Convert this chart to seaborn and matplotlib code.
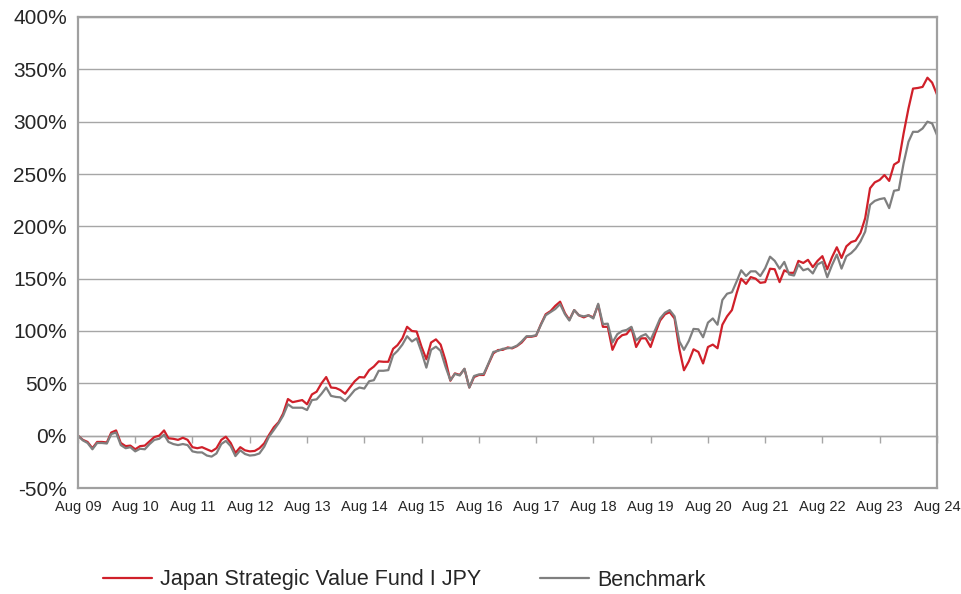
import numpy as np
import pandas as pd
import matplotlib
matplotlib.use("Agg")
import matplotlib.pyplot as plt
import matplotlib.dates as mdates
import seaborn as sns

# Cumulative performance (%), monthly from Aug 2009 to Aug 2024
fund = [
    0, -4, -6, -12, -6, -6, -6.5, 3, 5, -7, -10, -9.5, -13,          # Aug09 - Aug10
    -10, -9.5, -5.4, -1.3, 0, 5, -2.5, -3, -4, -2, -4, -11,          # -> Aug11
    -12, -11, -13, -15, -12, -4, -1, -7, -16.5, -11, -14, -15,       # -> Aug12
    -14.6, -12, -7.3, 0.6, 8, 13, 21, 35, 32, 33, 34, 30,            # -> Aug13
    39.4, 42, 50, 56, 46, 45.5, 43.6, 40, 46, 52, 56, 55.6,          # -> Aug14
    62.6, 66, 71, 70.6, 70.6, 83, 86.5, 93, 104, 100, 99.5, 85,      # -> Aug15
    73, 89, 92, 87, 72, 52.5, 59.5, 58, 63.7, 46, 56, 58,            # -> Aug16
    58, 68.4, 78.6, 81.8, 82, 84.3, 83.4, 85.6, 89, 94.5, 94.5, 95.5,  # -> Aug17
    106.6, 116, 119, 124, 128, 117, 110.7, 120, 115, 113, 115, 113,  # -> Aug18
    125, 104, 104, 82, 92, 96, 97, 103, 84.7, 93, 93, 84.7,          # -> Aug19
    98.4, 110, 116, 118, 112, 82.5, 62.5, 71, 82.5, 80, 69, 84.7,    # -> Aug20
    87, 83.5, 106, 114, 120, 136.6, 150, 145, 151.5, 150, 146, 146.7,  # -> Aug21
    159.5, 159, 146.7, 158, 155.6, 155.6, 167, 165, 168, 161, 167, 171.5,  # -> Aug22
    159, 170.4, 180, 169.8, 180.9, 185, 186.3, 193.6, 207.8, 236.4, 242, 244.3,  # -> Aug23
    249, 243.4, 259, 261.8, 288.8, 312.6, 331.6, 332.2, 333.2, 342, 337.3, 325.9,  # -> Aug24
]

benchmark = [
    0, -4.5, -7, -13, -7, -7, -7.5, 1.5, 3, -9, -12, -11, -15,
    -12.5, -13, -8, -4, -3, 1, -6, -8, -9, -8, -9, -15,
    -16, -16, -19, -20, -17, -8, -5, -10, -19.5, -14, -17.5, -19,
    -18.5, -17, -10.5, -1, 5.4, 12, 19, 30, 26.7, 26.7, 26.7, 24.5,
    34, 34.7, 40, 46, 38, 37, 36.6, 33, 38, 43.6, 46, 45,
    52, 53, 62, 62, 62.6, 77, 81, 87, 95, 90, 93, 80,
    65, 82, 85, 81, 66, 53, 59, 57.5, 64, 46, 57, 58.5,
    59, 69, 80, 81, 83, 83.5, 84, 86, 90, 95, 95, 96,
    106, 115, 118, 121, 125.7, 116, 110, 120, 115, 114, 115, 112,
    126, 106.6, 107, 89, 97, 100, 101, 104, 91, 95, 97, 91.4,
    101.6, 112, 117.5, 120, 114, 90, 82, 90.5, 102, 101.6, 94, 108,
    112, 106, 129.6, 135.6, 137, 147.7, 158, 152.5, 157, 157, 152.5, 160,
    171, 167, 159.5, 166, 154, 153, 163.6, 158, 159.5, 155, 163.6, 166,
    151.4, 162.8, 173, 159.6, 171.4, 174.5, 178.7, 185.6, 195, 220.5, 224.3, 226,
    226.9, 217.4, 234, 234.8, 260.2, 280.8, 290.3, 290.3, 293.5, 300, 298.3, 287.2,
]

series_names = ["Japan Strategic Value Fund I JPY", "Benchmark"]
colors = ["#D0202A", "#7F7F7F"]
y_ticks = list(range(-50, 401, 50))

dates = pd.date_range("2009-08-01", periods=len(fund), freq="MS")
year_ticks = pd.date_range("2009-08-01", "2024-08-01", freq="12MS")
year_labels = [d.strftime("Aug %y") for d in year_ticks]

df = pd.DataFrame({"date": dates, series_names[0]: fund, series_names[1]: benchmark})
long_df = df.melt(id_vars="date", var_name="series", value_name="value")

sns.set_style("white")
plt.rcParams["font.family"] = ["Liberation Sans", "DejaVu Sans"]

grid_col = "#A6A6A6"
fig = plt.figure(figsize=(9.61, 5.94), dpi=100)
ax = fig.add_axes([78 / 961, 1 - 488 / 594, (937 - 78) / 961, (488 - 17) / 594])

sns.lineplot(data=long_df, x="date", y="value", hue="series",
             hue_order=series_names, palette=dict(zip(series_names, colors)),
             linewidth=1.6, legend=False, ax=ax)

ax.set_xlim(dates[0], dates[-1])
ax.set_ylim(-50, 400)
ax.set_yticks(y_ticks)
ax.set_yticklabels([f"{v}%" for v in y_ticks], fontsize=15)
ax.set_xticks(year_ticks)
ax.set_xticklabels(year_labels, fontsize=10.5)
ax.set_xlabel("")
ax.set_ylabel("")
ax.yaxis.grid(True, color=grid_col, linewidth=1)
ax.set_axisbelow(True)
ax.tick_params(axis="x", length=0, pad=9)
ax.tick_params(axis="y", length=5, color=grid_col, width=1, pad=3)
for side in ax.spines.values():
    side.set_color("#A0A0A0")
    side.set_linewidth(1.6)

# small year ticks hanging from the 0% line
sec = ax.secondary_xaxis(50 / 450)
sec.set_xticks(mdates.date2num(year_ticks))
sec.tick_params(axis="x", direction="out", length=5, color=grid_col, width=1,
                labelbottom=False, labeltop=False)
sec.spines["bottom"].set_color(grid_col)
sec.spines["bottom"].set_linewidth(1)

handles = ax.get_lines()[:2]
fig.legend(handles, series_names, loc="center", ncol=2, frameon=False,
           bbox_to_anchor=(404 / 961, 1 - 580 / 594), fontsize=15.5,
           handlelength=2.28, handletextpad=0.37, columnspacing=2.74)

fig.savefig("out.png", dpi=100)
